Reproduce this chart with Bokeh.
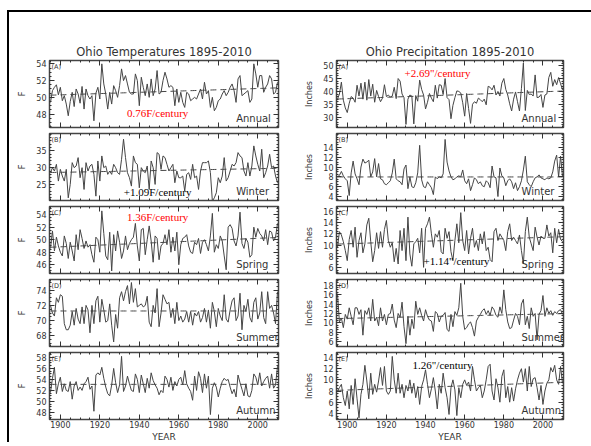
import numpy as np
from bokeh.plotting import figure
from bokeh.models import Range1d, LinearAxis, FixedTicker, Div
from bokeh.layouts import column, row
from bokeh.core.properties import value
from bokeh.embed import file_html
from bokeh.resources import INLINE

years = list(range(1895, 2011))

temp_annual = [49.4, 50.8, 51.2, 51.5, 50.3,
    51.2, 49.6, 50.2, 49.2, 47.8, 49.5, 50.6, 48.9, 51.0, 50.4,
    49.3, 51.3, 48.6, 51.0, 50.2, 49.8, 50.2, 47.2, 50.5, 51.2,
    49.8, 54.0, 51.6, 50.4, 48.6, 50.6, 49.2, 51.4, 50.8, 50.0,
    51.4, 53.4, 52.0, 52.6, 51.6, 50.6, 50.4, 50.4, 52.8, 52.0,
    49.0, 52.4, 51.2, 50.2, 51.6, 50.0, 52.2, 50.2, 51.0, 53.2,
    50.4, 50.6, 52.0, 53.0, 52.2, 51.2, 51.4, 51.2, 49.0, 51.0,
    49.4, 50.6, 49.4, 48.8, 50.6, 50.4, 49.6, 49.8, 50.0, 49.8,
    50.4, 51.0, 49.8, 51.8, 50.4, 50.8, 48.8, 50.0, 48.4, 48.8,
    49.6, 49.8, 50.4, 50.8, 50.2, 50.6, 51.2, 51.6, 50.8, 49.4,
    52.2, 52.6, 50.2, 50.4, 50.6, 50.8, 49.4, 49.8, 54.0, 52.8,
    51.2, 52.6, 52.6, 50.6, 51.2, 51.6, 52.6, 52.2, 50.4, 50.6,
    51.8]

temp_winter = [28.5, 30.0, 29.0, 31.0, 26.0,
    29.5, 27.5, 26.0, 29.5, 21.0, 25.0, 31.5, 30.0, 30.5, 33.0,
    27.0, 30.0, 23.5, 31.5, 29.0, 30.5, 31.0, 28.0, 21.5, 32.0,
    26.0, 33.5, 30.0, 30.5, 28.0, 29.0, 28.0, 31.0, 30.0, 28.5,
    28.0, 32.5, 38.5, 33.0, 28.5, 27.0, 24.5, 33.5, 31.5, 31.0,
    24.0, 30.0, 29.0, 28.5, 30.5, 23.5, 32.0, 30.0, 25.0, 34.5,
    34.0, 29.5, 33.5, 33.0, 31.0, 29.0, 30.0, 31.0, 25.5, 29.0,
    27.0, 27.0, 27.5, 23.0, 28.0, 28.5, 26.5, 31.0, 27.0, 27.5,
    23.5, 29.0, 31.5, 31.5, 31.5, 32.0, 28.5, 20.0, 21.0, 22.5,
    27.0, 25.5, 27.5, 33.0, 26.0, 27.0, 29.0, 31.0, 30.5, 31.5,
    34.5, 33.5, 33.0, 29.0, 27.5, 31.5, 27.5, 30.5, 36.5, 33.5,
    31.0, 29.0, 35.5, 27.0, 28.5, 30.5, 34.0, 30.0, 30.5, 27.5,
    25.5]

temp_spring = [48.6, 51.4, 48.2, 50.4, 49.0,
    48.0, 47.4, 50.6, 49.4, 47.0, 49.6, 48.2, 46.6, 50.8, 48.4,
    51.6, 50.2, 48.6, 49.8, 48.8, 49.2, 47.6, 46.4, 50.4, 50.0,
    48.0, 54.6, 51.0, 47.4, 46.8, 51.2, 45.0, 50.8, 48.2, 51.4,
    49.6, 47.0, 48.2, 50.6, 48.4, 49.4, 50.0, 50.4, 52.6, 49.0,
    46.6, 51.6, 51.8, 47.6, 50.0, 52.2, 49.8, 46.4, 50.6, 50.2,
    46.8, 49.0, 49.4, 50.8, 49.2, 51.6, 48.0, 50.4, 48.2, 51.2,
    46.0, 49.2, 50.2, 50.4, 50.8, 49.0, 48.0, 47.8, 49.6, 49.2,
    50.2, 47.8, 49.6, 50.0, 49.2, 48.2, 50.6, 54.2, 48.0, 49.2,
    48.6, 50.6, 49.8, 47.4, 45.2, 52.0, 52.4, 51.8, 49.8, 49.0,
    50.6, 54.4, 49.4, 48.6, 50.2, 49.6, 47.2, 47.6, 52.0, 50.4,
    51.8, 51.0, 50.6, 49.8, 51.6, 49.2, 51.4, 51.2, 49.8, 50.4,
    52.6]

temp_summer = [72.0, 71.0, 70.6, 73.0, 72.4,
    73.4, 73.2, 69.6, 68.8, 68.8, 69.4, 71.2, 69.4, 71.6, 70.2,
    69.6, 71.8, 69.6, 72.0, 71.4, 68.4, 72.0, 69.6, 72.6, 73.2,
    69.8, 72.8, 71.4, 69.8, 70.0, 72.2, 69.4, 67.2, 70.8, 69.0,
    73.0, 73.8, 72.6, 73.8, 74.6, 72.2, 75.0, 72.4, 74.2, 71.8,
    72.0, 72.2, 71.8, 72.0, 73.2, 69.8, 69.2, 72.0, 71.0, 74.2,
    69.2, 71.0, 73.4, 72.8, 72.2, 72.4, 70.4, 71.6, 69.6, 72.4,
    70.0, 70.6, 69.8, 70.2, 71.2, 69.8, 71.2, 69.4, 71.0, 70.6,
    71.2, 69.8, 70.4, 71.6, 69.8, 71.4, 69.0, 72.4, 71.2, 69.2,
    71.6, 70.6, 70.0, 73.4, 70.2, 69.8, 71.4, 72.6, 73.0, 70.0,
    70.6, 73.6, 68.8, 72.0, 71.2, 72.8, 70.4, 69.8, 72.4, 73.0,
    70.2, 71.0, 73.8, 70.4, 69.6, 73.8, 71.6, 72.0, 71.0, 69.6,
    73.8]

temp_autumn = [51.6, 54.2, 56.2, 51.4, 53.2,
    54.4, 51.8, 53.2, 52.0, 51.8, 53.6, 50.4, 52.8, 53.6, 52.0,
    52.6, 52.0, 53.2, 53.6, 54.4, 52.2, 52.8, 48.2, 54.8, 55.2,
    54.8, 56.2, 54.2, 52.6, 51.4, 51.0, 53.0, 56.0, 53.4, 51.6,
    53.0, 58.2, 51.8, 52.8, 54.6, 53.2, 52.0, 51.8, 55.0, 54.0,
    51.6, 54.8, 53.2, 51.6, 54.2, 52.4, 55.2, 53.8, 53.0, 52.4,
    51.2, 52.0, 51.6, 54.6, 54.0, 52.6, 54.4, 52.0, 53.6, 52.8,
    54.0, 54.4, 53.0, 55.6, 53.2, 52.4, 51.8, 50.2, 54.6, 52.0,
    55.4, 54.2, 51.6, 55.0, 52.4, 54.6, 47.6, 52.4, 53.4, 52.6,
    50.8, 52.4, 53.6, 54.2, 53.8, 54.0, 52.6, 51.4, 52.2, 50.8,
    54.8, 53.4, 52.2, 51.0, 53.2, 51.0, 50.8, 52.0, 55.0, 54.4,
    53.0, 55.2, 52.8, 53.6, 54.2, 54.6, 52.4, 55.0, 52.4, 53.0,
    56.4]

prcp_annual = [37.0, 39.0, 43.6, 36.6, 33.6,
    31.8, 35.4, 38.0, 37.4, 35.8, 42.4, 38.2, 43.2, 37.0, 43.6,
    36.6, 44.6, 38.2, 42.8, 35.8, 40.4, 38.0, 36.0, 37.4, 42.6,
    38.0, 38.6, 37.8, 38.2, 41.6, 37.2, 45.0, 44.0, 39.0, 37.6,
    27.2, 37.0, 38.6, 38.2, 27.4, 38.4, 36.2, 44.4, 40.8, 38.6,
    33.2, 35.8, 39.2, 37.4, 36.0, 42.4, 37.4, 42.6, 42.4, 38.8,
    45.0, 37.6, 36.8, 29.4, 34.6, 37.6, 40.2, 40.0, 39.4, 35.6,
    30.4, 39.2, 33.4, 27.6, 35.0, 36.0, 35.4, 37.4, 36.8, 36.0,
    37.0, 34.8, 42.0, 41.6, 40.6, 42.4, 38.6, 40.0, 38.2, 43.2,
    45.0, 40.8, 38.6, 35.2, 32.4, 37.0, 39.8, 36.0, 32.4, 41.2,
    51.0, 32.6, 40.4, 38.8, 39.0, 38.2, 46.4, 37.6, 37.8, 38.8,
    33.8, 38.6, 39.0, 45.4, 47.4, 42.0, 44.6, 42.6, 45.4, 43.0,
    40.6]

prcp_winter = [8.0, 8.3, 9.1, 8.2, 7.6,
    7.2, 4.2, 8.8, 11.2, 8.6, 7.6, 6.4, 10.0, 11.6, 10.8,
    11.0, 11.4, 8.0, 9.0, 11.7, 8.0, 10.7, 7.6, 7.4, 6.6,
    6.4, 6.8, 7.2, 8.8, 11.6, 7.6, 7.2, 7.0, 6.4, 9.6,
    10.4, 5.6, 8.0, 6.0, 5.8, 6.8, 8.8, 14.4, 7.4, 6.0,
    5.8, 7.0, 6.4, 5.8, 4.4, 8.0, 7.6, 8.0, 7.8, 8.6,
    15.6, 11.0, 9.2, 8.0, 7.4, 7.6, 8.0, 8.2, 8.0, 9.4,
    7.2, 6.6, 7.6, 5.2, 6.4, 7.8, 7.4, 6.6, 7.0, 6.2,
    6.0, 7.2, 6.8, 5.8, 10.2, 8.0, 7.8, 4.0, 9.8, 8.2,
    7.8, 6.2, 7.2, 7.6, 7.0, 5.6, 6.8, 5.2, 6.0, 7.2,
    9.4, 12.2, 7.0, 6.4, 6.0, 7.0, 7.8, 8.0, 8.4, 7.8,
    7.6, 7.4, 7.8, 7.6, 7.8, 9.0, 11.2, 12.4, 8.0, 12.2,
    8.0]

prcp_spring = [9.6, 12.4, 11.8, 10.6, 9.0,
    7.2, 11.0, 12.6, 9.6, 13.2, 7.8, 10.8, 12.2, 8.6, 10.2,
    13.6, 14.8, 10.6, 7.0, 9.0, 12.2, 9.4, 12.4, 9.6, 12.8,
    14.4, 10.8, 9.6, 10.4, 7.0, 9.4, 6.6, 12.6, 9.0, 13.0,
    7.2, 15.0, 8.4, 6.2, 10.2, 10.6, 11.2, 8.6, 13.0, 6.0,
    13.0, 13.8, 15.0, 12.0, 9.6, 12.0, 11.4, 12.6, 8.8, 8.4,
    13.0, 11.2, 12.4, 8.8, 7.2, 10.8, 13.8, 10.4, 15.8, 10.8,
    9.0, 12.6, 8.4, 11.2, 13.0, 9.6, 10.8, 9.0, 12.0, 10.2,
    12.4, 9.0, 9.6, 7.4, 7.0, 12.4, 13.0, 10.8, 12.0, 11.4,
    10.8, 9.0, 12.4, 13.8, 10.8, 11.4, 10.8, 10.2, 11.8, 9.0,
    6.6, 12.4, 15.0, 11.4, 10.2, 9.0, 13.2, 11.4, 10.0, 11.6,
    11.2, 11.2, 13.6, 11.6, 12.2, 8.6, 13.0, 10.4, 12.8, 11.0,
    10.6]

prcp_summer = [16.2, 10.2, 11.0, 9.0, 11.8,
    10.8, 13.2, 11.4, 9.6, 13.2, 13.2, 11.8, 12.8, 7.4, 12.6,
    11.8, 13.2, 10.4, 15.0, 10.4, 11.2, 9.4, 13.2, 10.4, 11.8,
    9.6, 11.8, 12.0, 14.0, 10.6, 9.0, 12.0, 11.2, 14.4, 9.2,
    5.6, 11.4, 7.4, 10.8, 8.8, 14.6, 11.8, 13.2, 11.6, 10.4,
    12.8, 11.4, 10.6, 10.4, 8.2, 12.4, 12.0, 10.2, 11.4, 11.6,
    12.2, 8.6, 8.2, 11.8, 9.2, 12.4, 11.6, 13.2, 18.4, 11.4,
    8.6, 9.0, 9.8, 10.2, 9.0, 7.2, 10.4, 11.2, 11.8, 12.6,
    13.0, 11.8, 12.6, 11.6, 13.4, 12.8, 11.6, 11.2, 13.4, 12.0,
    17.0, 12.8, 10.2, 8.8, 9.0, 10.6, 12.0, 11.4, 9.6, 14.0,
    15.0, 9.6, 11.4, 8.8, 13.2, 11.4, 12.0, 6.4, 11.8, 12.6,
    15.8, 11.4, 13.2, 12.0, 12.6, 11.6, 12.4, 12.0, 12.6, 12.8,
    11.8]

prcp_autumn = [8.0, 8.6, 9.2, 6.8, 5.4,
    8.0, 4.8, 9.0, 5.6, 10.2, 6.6, 3.2, 7.4, 9.2, 12.6,
    9.8, 6.6, 11.2, 7.4, 9.2, 7.8, 9.8, 12.2, 9.0, 12.4,
    8.0, 7.4, 8.0, 14.2, 10.0, 7.6, 11.2, 7.6, 9.2, 6.8,
    9.0, 8.0, 10.0, 7.6, 9.4, 6.8, 8.8, 5.6, 8.8, 10.0,
    11.8, 9.2, 6.8, 8.4, 10.4, 8.0, 4.8, 9.2, 7.6, 11.2,
    8.6, 6.8, 3.8, 8.6, 10.0, 8.2, 3.6, 8.6, 6.8, 9.2,
    10.0, 9.0, 9.6, 8.0, 12.4, 10.0, 8.0, 8.6, 9.0, 6.8,
    8.0, 10.0, 12.4, 12.8, 8.0, 6.4, 10.2, 8.6, 6.0, 10.6,
    11.8, 6.8, 8.8, 6.0, 8.6, 6.2, 8.4, 10.0, 11.2, 12.0,
    9.6, 12.0, 8.0, 12.4, 8.8, 10.2, 10.4, 8.6, 6.4, 9.0,
    5.6, 8.0, 9.4, 10.0, 12.2, 11.4, 12.6, 10.0, 9.2, 12.4,
    9.4]

seasons = ["Annual", "Winter", "Spring", "Summer", "Autumn"]
letters = ["(A)", "(B)", "(C)", "(D)", "(E)"]

temp_series = [temp_annual, temp_winter, temp_spring, temp_summer, temp_autumn]
prcp_series = [prcp_annual, prcp_winter, prcp_spring, prcp_summer, prcp_autumn]

# trend slopes, units per century
temp_trend = [0.76, 1.09, 1.36, 0.0, 0.0]
prcp_trend = [2.69, 0.0, 1.14, 0.9, 1.26]

temp_yranges = [(46.4, 54.4), (20.2, 40.2), (44.6, 55.3), (66.6, 75.4), (46.7, 58.9)]
prcp_yranges = [(26.0, 52.0), (3.2, 16.8), (4.9, 16.9), (5.0, 19.2), (2.9, 14.9)]

temp_yticks = [[48, 50, 52, 54], [25, 30, 35], [46, 48, 50, 52, 54],
               [68, 70, 72, 74], [48, 50, 52, 54, 56, 58]]
prcp_yticks = [[30, 35, 40, 45, 50], [4, 6, 8, 10, 12, 14], [6, 8, 10, 12, 14, 16],
               [6, 8, 10, 12, 14, 16, 18], [4, 6, 8, 10, 12, 14]]
temp_ystep_minor = [0.5, 1.0, 0.5, 0.5, 0.5]
prcp_ystep_minor = [1.0, 0.5, 0.5, 0.5, 0.5]

xticks = [1900, 1920, 1940, 1960, 1980, 2000]
xminor = list(range(1895, 2011, 5))

# notes: (panel index, text, color, frame fraction x, frame fraction y)
temp_notes = [(0, "0.76F/century", "#ff0000", 0.472, 0.22),
              (1, "+1.09F/century", "#000000", 0.472, 0.12),
              (2, "1.36F/century", "#ff0000", 0.472, 0.84)]
prcp_notes = [(0, "+2.69\"/century", "#ff0000", 0.445, 0.81),
              (2, "+1.14\"/century", "#000000", 0.529, 0.19),
              (4, "1.26\"/century", "#000000", 0.467, 0.81)]

XR = (1894.5, 2010.5)
FH = 67
FONT = "DejaVu Sans"
INK = "#333333"
LINE = "#454545"


def minor_list(rng, step):
    start = np.ceil(rng[0] / step) * step
    return list(np.arange(start, rng[1] + 1e-9, step))


def style_axis(ax, show_labels, size="8px", standoff=3):
    ax.axis_line_color = None
    ax.major_tick_in = 5
    ax.major_tick_out = 0
    ax.minor_tick_in = 2
    ax.minor_tick_out = 0
    ax.major_tick_line_color = INK
    ax.minor_tick_line_color = INK
    if show_labels:
        ax.major_label_text_font = FONT
        ax.major_label_text_font_size = size
        ax.major_label_text_color = INK
        ax.major_label_standoff = standoff
    else:
        ax.major_label_text_color = None
        ax.major_label_text_font_size = "1px"
        ax.major_label_standoff = 0


def panel(i, vals, yr, yticks, ystep, ylabel, slope, fw, bl, br, title, notes, is_last):
    bt = 48 if i == 0 else 3
    bb = 25 if is_last else 3
    p = figure(frame_width=fw, frame_height=FH, x_range=Range1d(*XR), y_range=Range1d(*yr),
               output_backend="svg", toolbar_location=None,
               min_border_left=bl, min_border_right=br, min_border_top=bt, min_border_bottom=bb)
    p.xgrid.visible = False
    p.ygrid.visible = False
    p.outline_line_color = "#444444"
    p.outline_line_width = 1.5
    p.background_fill_color = "white"
    p.border_fill_color = "white"

    p.xaxis.ticker = FixedTicker(ticks=xticks, minor_ticks=xminor)
    p.yaxis.ticker = FixedTicker(ticks=yticks, minor_ticks=minor_list(yr, ystep))
    style_axis(p.xaxis[0], is_last, standoff=1)
    style_axis(p.yaxis[0], True)
    p.yaxis.axis_label = ylabel
    p.yaxis.axis_label_text_font = FONT
    p.yaxis.axis_label_text_font_size = "8px"
    p.yaxis.axis_label_text_font_style = "normal"
    p.yaxis.axis_label_text_color = INK
    p.yaxis.axis_label_standoff = 6
    if is_last:
        p.xaxis.axis_label = "YEAR"
        p.xaxis.axis_label_text_font = FONT
        p.xaxis.axis_label_text_font_size = "9px"
        p.xaxis.axis_label_text_font_style = "normal"
        p.xaxis.axis_label_text_color = INK
        p.xaxis.axis_label_standoff = 1
    ra = LinearAxis(ticker=FixedTicker(ticks=yticks, minor_ticks=minor_list(yr, ystep)))
    style_axis(ra, False)
    p.add_layout(ra, "right")
    ta = LinearAxis(ticker=FixedTicker(ticks=xticks, minor_ticks=xminor))
    style_axis(ta, False)
    p.add_layout(ta, "above")

    if title:
        p.title.text = title
        p.title.align = "center"
        p.title.text_font = FONT
        p.title.text_font_size = "11.5px"
        p.title.text_font_style = "normal"
        p.title.text_color = INK
        p.title.standoff = 4

    # trend line (dashed) through the series mean
    yrs = np.array(years, dtype=float)
    v = np.array(vals, dtype=float)
    trend = v.mean() + slope / 100.0 * (yrs - yrs.mean())
    p.line(yrs, trend, line_color=LINE, line_width=1, line_dash="6 4")
    p.line(years, vals, line_color=LINE, line_width=1)

    # in-frame labels
    p.text(x=[XR[0]], y=[yr[1]], text=[letters[i]], x_offset=2, y_offset=2,
           text_font=value(FONT), text_font_size="6.5px", text_color=INK,
           text_baseline="top", text_align="left")
    season_x = XR[0] + 0.815 * (XR[1] - XR[0])
    p.text(x=[season_x], y=[yr[0]], text=[seasons[i]], x_offset=0, y_offset=-4,
           text_font=value(FONT), text_font_size="10px", text_color=INK,
           text_baseline="bottom", text_align="left")
    for (k, txt, col, fx, fy) in notes:
        if k == i:
            p.text(x=[XR[0] + fx * (XR[1] - XR[0])], y=[yr[0] + fy * (yr[1] - yr[0])], text=[txt],
                   text_font=value("Liberation Serif"), text_font_size="11px", text_color=col,
                   text_baseline="middle", text_align="center")
    return p


left_figs = []
right_figs = []
for i in range(5):
    left_figs.append(panel(i, temp_series[i], temp_yranges[i], temp_yticks[i], temp_ystep_minor[i],
                           "F", temp_trend[i], 229, 40, 18,
                           "Ohio Temperatures 1895-2010" if i == 0 else None, temp_notes, i == 4))
    right_figs.append(panel(i, prcp_series[i], prcp_yranges[i], prcp_yticks[i], prcp_ystep_minor[i],
                            "Inches", prcp_trend[i], 227, 40, 12,
                            "Ohio Precipitation 1895-2010" if i == 0 else None, prcp_notes, i == 4))

left_col = column(*left_figs, spacing=0)
right_col = column(*right_figs, spacing=0)

top_rule = Div(text="", width=584, height=2, margin=0, styles={"background-color": "black"})
left_rule = Div(text="", width=2, height=430, margin=0,
                styles={"background-color": "black", "min-height": "430px"})

root = column(top_rule, row(left_rule, left_col, right_col, spacing=0), spacing=0,
              margin=(10, 0, 0, 7))

open("out.html", "w").write(file_html(root, INLINE))
